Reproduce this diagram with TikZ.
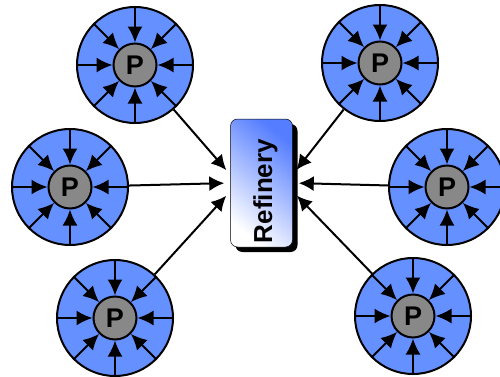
\documentclass[tikz,border=0pt]{standalone}
\usepackage{fontspec}
\setmainfont{Liberation Sans}
\usetikzlibrary{arrows.meta,shadows}
\definecolor{pblue}{RGB}{100,145,255}
\definecolor{pgray}{RGB}{136,136,136}
\definecolor{rblue}{RGB}{85,125,255}
\newcommand\producer[3]{%
  \node[outer] (#1) at (#2,#3) {};
  \node[pnode] (#1p) at (#2,#3) {P};
  \foreach \a in {0,45,...,315} \draw[spoke] (#1.\a) -- (#1p.\a);
}
\begin{document}
\begin{tikzpicture}[x=1pt,y=1pt,
  outer/.style={circle,draw,line width=2pt,fill=pblue,minimum size=116pt,inner sep=0pt},
  pnode/.style={circle,draw,line width=2pt,fill=pgray,minimum size=43pt,inner sep=0pt,font=\bfseries\fontsize{27}{27}\selectfont},
  spoke/.style={line width=2pt,-{Latex[length=16pt,width=15pt]}},
  feed/.style={line width=2pt,-{Latex[length=15pt,width=15pt]},shorten >=6pt},
  refbox/.style={rectangle,rounded corners=7pt,draw=black,line width=0.5pt,minimum width=62pt,minimum height=128pt,
    bottom color=white,top color=rblue,shading angle=-40,
    drop shadow={shadow xshift=5pt,shadow yshift=-5pt,fill=black,opacity=1}},
  reflabel/.style={rotate=90,font=\bfseries\fontsize{26}{26}\selectfont}]
\useasboundingbox (0,0) rectangle (500,376);
\producer{pa}{135}{311}
\producer{pb}{70}{189}
\producer{pc}{115}{58}
\producer{pd}{380}{313}
\producer{pe}{447}{189}
\producer{pf}{413}{60}
\node[refbox] (ref) at (261.5,193) {};
\node[reflabel] (reflab) at ([xshift=4pt,yshift=-8pt]ref.center) {Refinery};
\draw[feed] (pa) -- (ref.165);
\draw[feed] (pb) -- (ref.west);
\draw[feed] (pc) -- (ref.195);
\draw[feed] (pd) -- (ref.15);
\draw[feed] (pe) -- (ref.east);
\draw[feed] (pf) -- (ref.-15);
\end{tikzpicture}
\end{document}
